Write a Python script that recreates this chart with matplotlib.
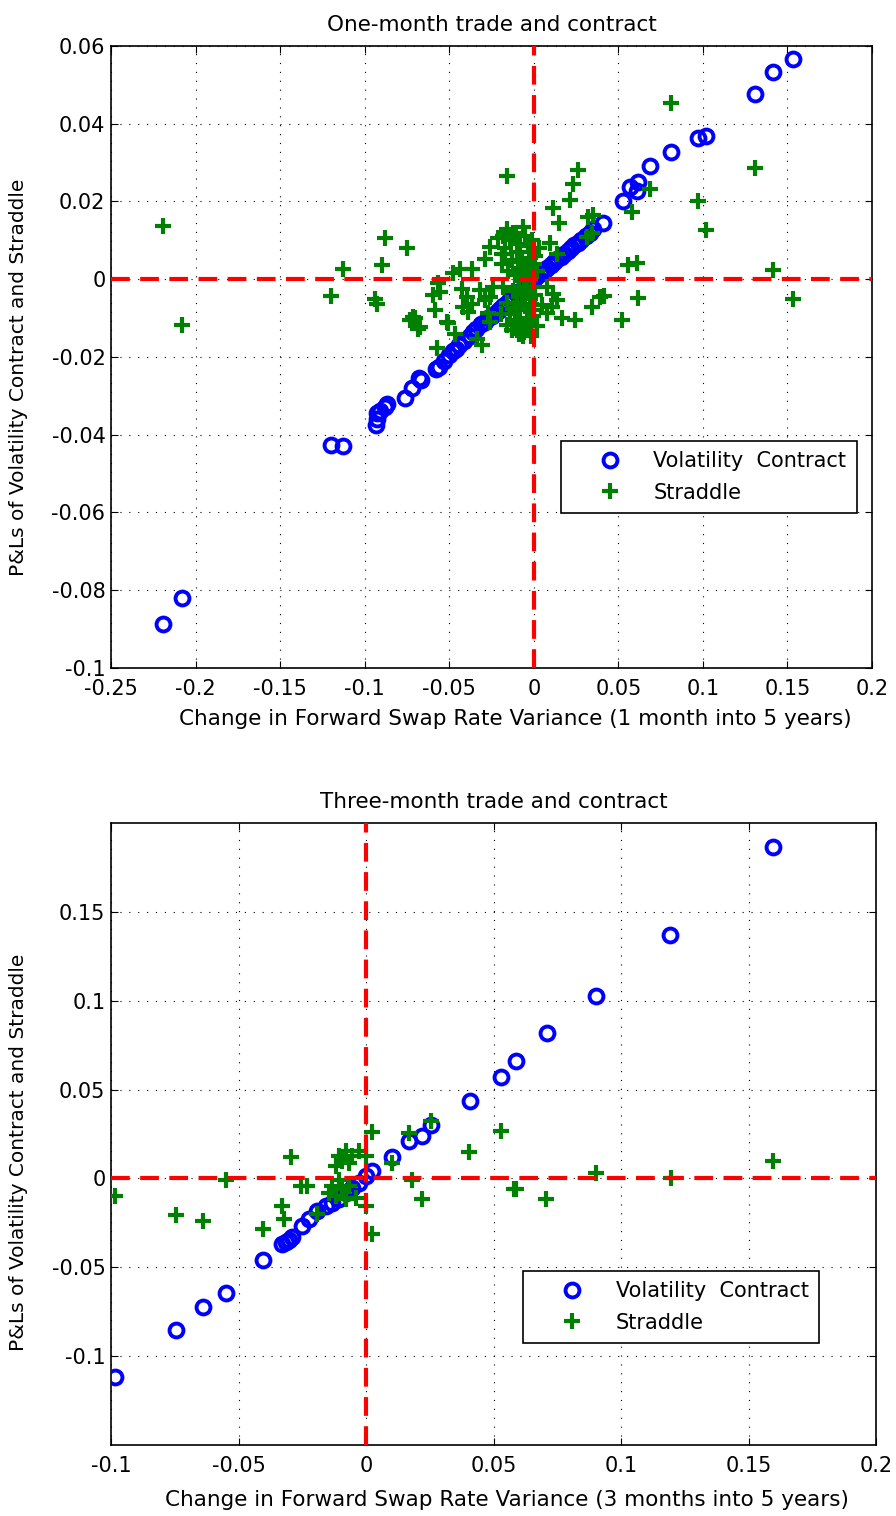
import matplotlib
matplotlib.use('Agg')
import matplotlib.pyplot as plt

plt.rcParams['font.family'] = ['DejaVu Sans']
plt.rcParams['axes.unicode_minus'] = False

# ---- one-month data ----
vol1_x = [-0.219, -0.208, -0.120, -0.113, -0.0935, -0.093, -0.0925, -0.091, -0.088, -0.087,
          -0.076, -0.072, -0.068, -0.0665, -0.058, -0.056, -0.053, -0.050, -0.048, -0.046,
          -0.044, -0.041, -0.038, -0.036, -0.034, -0.031, -0.029, -0.027, -0.025, -0.022,
          -0.020, -0.018, -0.016, -0.014, -0.012, -0.010, -0.008, -0.006, -0.004, -0.002,
          0.000, 0.002, 0.004, 0.006, 0.008, 0.010, 0.012, 0.014, 0.016, 0.018,
          0.020, 0.022, 0.024, 0.026, 0.028, 0.031, 0.033, 0.035, 0.041, 0.0526,
          0.0569, 0.0609, 0.0618, 0.0687, 0.081, 0.0973, 0.1019, 0.1308, 0.1413, 0.1533]
vol1_y = [-0.0887, -0.0820, -0.0427, -0.0430, -0.0375, -0.0360, -0.0345, -0.0338, -0.0330, -0.0320,
          -0.0305, -0.0280, -0.0255, -0.0260, -0.0230, -0.0225, -0.0210, -0.0195, -0.0185, -0.0180,
          -0.0170, -0.0160, -0.0145, -0.0135, -0.0128, -0.0115, -0.0110, -0.0100, -0.0094, -0.0085,
          -0.0077, -0.0068, -0.0060, -0.0052, -0.0046, -0.0038, -0.0030, -0.0022, -0.0014, -0.0007,
          0.0000, 0.0008, 0.0015, 0.0022, 0.0030, 0.0036, 0.0044, 0.0051, 0.0058, 0.0066,
          0.0073, 0.0080, 0.0088, 0.0094, 0.0100, 0.0112, 0.0120, 0.0128, 0.0145, 0.0200,
          0.0237, 0.0227, 0.0250, 0.0291, 0.0326, 0.0363, 0.0368, 0.0476, 0.0533, 0.0567]

str1_x = [-0.219, -0.208, -0.120, -0.113, -0.094, -0.093, -0.090, -0.088, -0.0752, -0.0732,
          -0.0713, -0.0702, -0.0683, -0.0673, -0.0594, -0.0584, -0.0574, -0.0564, -0.0554, -0.0515,
          -0.0506, -0.0476, -0.0466, -0.0436, -0.0426, -0.0416, -0.0397, -0.0387, -0.0367, -0.0367,
          -0.0338, -0.0308, -0.0318, -0.0288, -0.0288, -0.0269, -0.0259, -0.0259, -0.0259, -0.024,
          -0.021, -0.018, -0.016, -0.0156, -0.017, -0.016, -0.013,
          0.0047, 0.0076, 0.0076, 0.0096, 0.0106, 0.0116, 0.0116, 0.0135, 0.0136, 0.0151,
          0.0165, 0.0214, 0.023, 0.026, 0.0244, 0.0313, 0.0322, 0.0342, 0.0348, 0.0342,
          0.0392, 0.0415, 0.052, 0.056, 0.0583, 0.0609, 0.0618, 0.0687, 0.081, 0.0969,
          0.1016, 0.1308, 0.1413, 0.153,
          -0.019, -0.018, -0.017, -0.016, -0.015, -0.014, -0.014, -0.013, -0.012, -0.012,
          -0.011, -0.011, -0.010, -0.010, -0.009, -0.009, -0.008, -0.008, -0.007, -0.007,
          -0.006, -0.006, -0.005, -0.005, -0.004, -0.004, -0.003, -0.003, -0.002, -0.002,
          -0.001, -0.001, 0.000, 0.000, 0.001, 0.001, 0.002, 0.002, 0.003, -0.013,
          -0.009, -0.016, -0.0195, -0.0185, -0.0065, -0.0105,
          -0.0085, -0.0055, -0.0035, -0.0015, -0.0075, -0.0045, -0.0025, -0.0005, -0.0115, -0.0095,
          -0.0055, -0.0035, -0.0015, -0.0085, -0.0065]
str1_y = [0.0136, -0.0118, -0.0043, 0.0025, -0.0051, -0.0064, 0.0036, 0.0107, 0.0079, -0.0105,
          -0.0097, -0.0100, -0.0129, -0.0123, -0.0041, -0.0080, -0.0178, -0.0011, -0.0033, -0.0110,
          -0.0112, 0.0015, -0.0141, 0.0027, -0.0024, -0.0071, -0.0045, -0.0084, 0.0027, -0.0063,
          -0.0155, -0.0170, -0.0028, 0.0053, -0.0054, -0.0088, 0.0083, -0.0045, -0.0110, -0.0020,
          0.0105, 0.0110, 0.0265, 0.0128, 0.0066, -0.0118, -0.0131,
          -0.0067, -0.0020, -0.0088, 0.0092, -0.0071, 0.0184, -0.0037, -0.0054, 0.0066, 0.0145,
          -0.0101, 0.0203, 0.0246, 0.0280, -0.0105, 0.0109, 0.0160, 0.0119, 0.0165, -0.0071,
          -0.0045, -0.0044, -0.0105, 0.0036, 0.0173, 0.0042, -0.0048, 0.0233, 0.0454, 0.0201,
          0.0126, 0.0286, 0.0023, -0.0050,
          0.004, -0.002, 0.008, -0.006, 0.002, 0.010, -0.009, 0.005, -0.003, 0.012,
          0.001, -0.011, 0.007, -0.006, 0.003, -0.002, 0.009, -0.008, 0.005, -0.004,
          0.000, -0.012, 0.011, -0.007, 0.003, -0.003, 0.007, -0.010, 0.001, -0.005,
          0.010, -0.002, 0.004, -0.008, 0.006, -0.004, 0.002, -0.012, 0.008, -0.013,
          -0.014, 0.012, -0.009, 0.0065, 0.0135, 0.0115,
          -0.0105, -0.0135, -0.0115, -0.0145, 0.0015, -0.0005, 0.0055, -0.0095, -0.0075, 0.0045,
          0.0025, 0.0085, -0.0065, -0.0025, -0.0145]

# ---- three-month data ----
vol3_x = [-0.0984, -0.0746, -0.064, -0.0548, -0.0405, -0.0328, -0.0315, -0.0302, -0.029, -0.025,
          -0.0224, -0.0191, -0.0158, -0.0132, -0.0106, -0.008, -0.0054, -0.0027, -0.0001, 0.0025,
          0.0101, 0.0169, 0.0218, 0.0254, 0.0407, 0.0528, 0.0590, 0.0709, 0.0901, 0.1191, 0.1597]
vol3_y = [-0.1116, -0.0852, -0.0723, -0.0642, -0.0461, -0.0371, -0.0356, -0.0345, -0.0331, -0.0268,
          -0.0230, -0.0184, -0.0156, -0.0137, -0.0118, -0.0080, -0.0052, -0.0024, 0.0013, 0.0041,
          0.0122, 0.0210, 0.0238, 0.0303, 0.0434, 0.0569, 0.0659, 0.0818, 0.1024, 0.1371, 0.1863]

str3_x = [-0.0984, -0.0746, -0.064, -0.0548, -0.0405, -0.0295, -0.0328, -0.0322, -0.0256, -0.023,
          -0.0191, -0.0106, -0.008, -0.0054, -0.0027, 0.0, -0.0119, -0.0067, -0.0093, -0.0132,
          -0.0106, -0.0145, -0.0119, -0.0093, -0.0067, -0.004, -0.008, 0.0, 0.0025, 0.0025,
          0.0101, 0.0169, 0.0182, 0.0221, 0.0254, 0.0404, 0.0528, 0.058, 0.059, 0.0707,
          0.0901, 0.1195, 0.1596]
str3_y = [-0.0099, -0.0208, -0.0240, -0.0006, -0.0287, 0.0122, -0.0155, -0.0230, -0.0043, -0.0043,
          -0.0202, 0.0125, 0.0153, 0.0125, 0.0153, 0.0125, 0.0069, 0.0088, 0.0097, -0.0043,
          -0.0006, -0.0080, -0.0099, -0.0062, -0.0043, -0.0108, -0.0118, -0.0156, -0.0315, 0.0260,
          0.0088, 0.0257, -0.0006, -0.0118, 0.0322, 0.0148, 0.0266, -0.0062, -0.0058, -0.0118,
          0.0028, 0.0004, 0.0097]

# axis ticks / labels
x1_ticks = [-0.25, -0.2, -0.15, -0.1, -0.05, 0, 0.05, 0.1, 0.15, 0.2]
y1_ticks = [-0.1, -0.08, -0.06, -0.04, -0.02, 0, 0.02, 0.04, 0.06]
x3_ticks = [-0.1, -0.05, 0, 0.05, 0.1, 0.15, 0.2]
y3_ticks = [-0.1, -0.05, 0, 0.05, 0.1, 0.15]

fig = plt.figure(figsize=(8.96, 15.16), dpi=100)
ax1 = fig.add_axes([0.1239, 0.5594, 0.8493, 0.4103])
ax2 = fig.add_axes([0.1239, 0.0468, 0.8538, 0.4103])

panels = [
    (ax1, vol1_x, vol1_y, str1_x, str1_y, 'One-month trade and contract',
     'Change in Forward Swap Rate Variance (1 month into 5 years)',
     (-0.25, 0.2), (-0.1, 0.06), x1_ticks, y1_ticks, (0.591, 0.249)),
    (ax2, vol3_x, vol3_y, str3_x, str3_y, 'Three-month trade and contract',
     'Change in Forward Swap Rate Variance (3 months into 5 years)',
     (-0.1, 0.2), (-0.15, 0.2), x3_ticks, y3_ticks, (0.539, 0.164)),
]

for ax, vx, vy, sx, sy, title, xlab, xl, yl, xt, yt, legpos in panels:
    ax.plot(vx, vy, 'o', color='blue', mfc='none', ms=10, mew=2.8, label='Volatility  Contract', zorder=3)
    ax.plot(sx, sy, '+', color='#008000', ms=12, mew=3, label='Straddle', zorder=4)
    ax.axhline(0, color='red', lw=3, ls=(0, (4.5, 2.5)), zorder=5)
    ax.axvline(0, color='red', lw=3, ls=(0, (4.5, 2.5)), zorder=5)
    ax.set_xlim(xl)
    ax.set_ylim(yl)
    ax.set_xticks(xt)
    ax.set_yticks(yt)
    ax.set_xticklabels(['%g' % v for v in xt])
    ax.set_yticklabels(['%g' % v for v in yt])
    ax.grid(True, color='black', lw=0.8, ls=(0, (1, 7)))
    ax.tick_params(direction='in', top=True, right=True, length=5, labelsize=15)
    ax.tick_params(axis='x', pad=8)
    ax.tick_params(axis='y', pad=4)
    for s in ax.spines.values():
        s.set_linewidth(1.2)
    ax.set_title(title, fontsize=15.5, pad=11)
    ax.set_xlabel(xlab, fontsize=15.5)
    ax.set_ylabel('P&Ls of Volatility Contract and Straddle', fontsize=14.5)
    leg = ax.legend(loc='lower left', bbox_to_anchor=legpos, borderaxespad=0, fancybox=False,
                    framealpha=1, edgecolor='black', fontsize=15, borderpad=0.5,
                    handletextpad=0.25, handlelength=3.7, labelspacing=0.55)
    leg.get_frame().set_linewidth(1.2)

ax1.xaxis.set_label_coords(0.531, -0.066)
ax1.yaxis.set_label_coords(-0.109, 0.468)
ax2.xaxis.set_label_coords(0.518, -0.073)
ax2.yaxis.set_label_coords(-0.1085, 0.471)

fig.savefig('out.png', dpi=100)
